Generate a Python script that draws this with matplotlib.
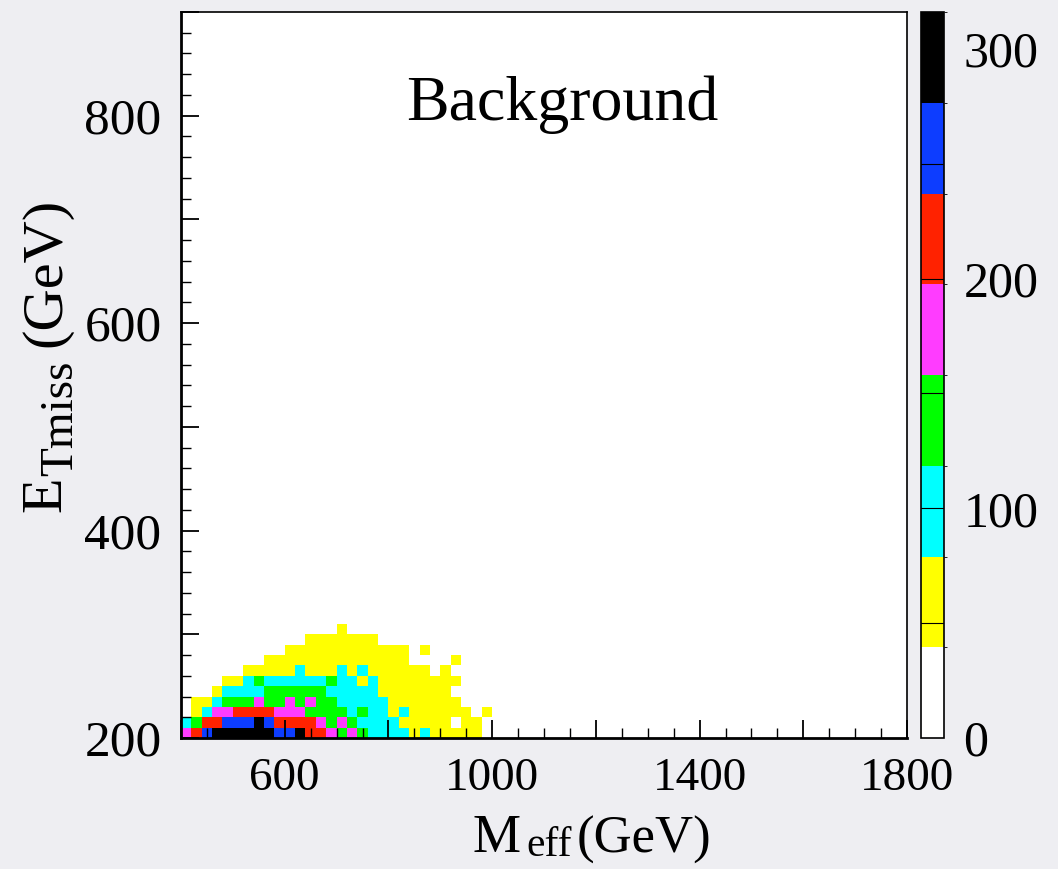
import numpy as np
import matplotlib

matplotlib.use("Agg")
import matplotlib.pyplot as plt
from matplotlib.colors import ListedColormap, BoundaryNorm
from matplotlib.ticker import MultipleLocator

plt.rcParams["font.family"] = ["Liberation Serif", "DejaVu Serif"]

# binning of the histogram (GeV)
x_lo, x_hi, x_bin = 400, 1800, 20
y_lo, y_hi, y_bin = 200, 900, 10

# bin contents, rows from E_Tmiss = 200 upward,
# columns from M_eff = 400 upward (everything else is empty)
counts = [
    [180, 220, 260, 300, 300, 300, 300, 300, 300, 260, 260, 300, 220, 220, 180,
     140, 180, 140, 100, 100, 100, 100, 60, 100, 60, 60, 60, 60, 60, 0],
    [100, 140, 220, 220, 260, 260, 260, 300, 260, 220, 220, 220, 220, 180, 140,
     180, 140, 100, 100, 100, 100, 60, 60, 60, 60, 60, 0, 60, 60, 0],
    [0, 60, 100, 180, 180, 220, 220, 220, 220, 180, 180, 180, 140, 140, 140,
     140, 100, 140, 100, 100, 60, 100, 60, 60, 60, 60, 60, 60, 0, 60],
    [0, 60, 60, 100, 140, 140, 140, 180, 140, 140, 180, 140, 180, 140, 140,
     100, 100, 100, 100, 100, 60, 60, 60, 60, 60, 60, 60, 0, 0, 0],
    [0, 0, 0, 60, 100, 100, 100, 100, 140, 140, 140, 140, 140, 140, 100,
     100, 100, 100, 100, 60, 60, 60, 60, 60, 60, 60, 0, 0, 0, 0],
    [0, 0, 0, 0, 60, 60, 100, 140, 100, 100, 100, 100, 100, 100, 140,
     100, 100, 60, 100, 60, 60, 60, 60, 60, 60, 60, 60, 0, 0, 0],
    [0, 0, 0, 0, 0, 0, 60, 60, 60, 60, 60, 100, 60, 60, 60,
     100, 60, 100, 60, 60, 60, 60, 60, 60, 0, 60, 0, 0, 0, 0],
    [0, 0, 0, 0, 0, 0, 0, 0, 60, 60, 60, 60, 60, 60, 60,
     60, 60, 60, 60, 60, 60, 60, 0, 0, 0, 0, 60, 0, 0, 0],
    [0, 0, 0, 0, 0, 0, 0, 0, 0, 0, 60, 60, 60, 60, 60,
     60, 60, 60, 60, 60, 60, 60, 0, 60, 0, 0, 0, 0, 0, 0],
    [0, 0, 0, 0, 0, 0, 0, 0, 0, 0, 0, 0, 60, 60, 60,
     60, 60, 60, 60, 0, 0, 0, 0, 0, 0, 0, 0, 0, 0, 0],
    [0, 0, 0, 0, 0, 0, 0, 0, 0, 0, 0, 0, 0, 0, 0,
     60, 0, 0, 0, 0, 0, 0, 0, 0, 0, 0, 0, 0, 0, 0],
]

# palette: 8 equal bands from 0 to z_max
z_max = 316
palette = ["#ffffff", "#ffff00", "#00ffff", "#00ff00",
           "#ff3cff", "#ff2200", "#0d3dff", "#000000"]
z_ticks = [0, 100, 200, 300]
z_lines = [50, 100, 150, 200, 250]

x_labels = {600: "600", 1000: "1000", 1400: "1400", 1800: "1800"}
y_labels = {200: "200", 400: "400", 600: "600", 800: "800"}

BG = "#eeeef2"

x_edges = np.arange(x_lo, x_hi + x_bin, x_bin)
y_edges = np.arange(y_lo, y_hi + y_bin, y_bin)
grid = np.zeros((len(y_edges) - 1, len(x_edges) - 1))
arr = np.array(counts, dtype=float)
grid[:arr.shape[0], :arr.shape[1]] = arr
grid = np.ma.masked_less_equal(grid, 0)

cmap = ListedColormap(palette)
bounds = np.linspace(0, z_max, len(palette) + 1)
norm = BoundaryNorm(bounds, cmap.N)

fig = plt.figure(figsize=(10.58, 8.69), dpi=100, facecolor=BG)
ax = fig.add_axes([181 / 1058, 1 - 738 / 869, 726 / 1058, 726 / 869])
ax.set_facecolor("white")
mesh = ax.pcolormesh(x_edges, y_edges, grid, cmap=cmap, norm=norm)
ax.set_xlim(x_lo, x_hi)
ax.set_ylim(y_lo, y_hi)

# ticks, ROOT style: inside, only on bottom / left
ax.xaxis.set_major_locator(MultipleLocator(200))
ax.xaxis.set_minor_locator(MultipleLocator(50))
ax.yaxis.set_major_locator(MultipleLocator(100))
ax.yaxis.set_minor_locator(MultipleLocator(20))
ax.set_xticklabels([x_labels.get(int(round(t)), "") for t in ax.get_xticks()])
ax.set_yticklabels([y_labels.get(int(round(t)), "") for t in ax.get_yticks()])
ax.tick_params(axis="both", which="both", direction="in",
               top=False, right=False, color="black")
ax.tick_params(axis="both", which="major", length=13, width=1.3)
ax.tick_params(axis="both", which="minor", length=7, width=1.0)
ax.tick_params(axis="x", which="major", labelsize=34, pad=14)
ax.tick_params(axis="y", which="major", labelsize=37, pad=14)
for s in ax.spines.values():
    s.set_linewidth(1.2)
ax.spines["left"].set_linewidth(2.0)
ax.spines["bottom"].set_linewidth(2.0)

ax.text(0.525, 0.872, "Background", transform=ax.transAxes,
        ha="center", va="center", fontsize=46)

# x title: M, lowered "eff", (GeV) -- ROOT-like large subscript
m = fig.text(473 / 1058, 1 - 852 / 869, "M", ha="left", va="baseline",
             fontsize=39)
eff = ax.annotate("eff", xy=(1, 0), xycoords=m, xytext=(4, -1),
                  textcoords="offset points", ha="left", va="bottom",
                  fontsize=30, annotation_clip=False)
ax.annotate("(GeV)", xy=(1, 0), xycoords=(eff, m), xytext=(3, 0),
            textcoords="offset points", ha="left", va="bottom",
            fontsize=38, annotation_clip=False)

# y title: E, subscript "Tmiss", (GeV), rotated
e = fig.text(46 / 1058, 1 - 512 / 869, "E", ha="center", va="bottom",
             rotation=90, fontsize=42)
tm = ax.annotate("Tmiss", xy=(1, 1), xycoords=e, xytext=(7, 0),
                 textcoords="offset points", ha="right", va="bottom",
                 rotation=90, fontsize=34, annotation_clip=False)
ax.annotate("(GeV)", xy=(1, 1), xycoords=(e, tm), xytext=(0, 10),
            textcoords="offset points", ha="right", va="bottom",
            rotation=90, fontsize=42, annotation_clip=False)

# palette axis
cax = fig.add_axes([921 / 1058, 1 - 738 / 869, 23 / 1058, 726 / 869])
cb = fig.colorbar(mesh, cax=cax, spacing="proportional")
cb.set_ticks(z_ticks)
cb.ax.tick_params(length=0, labelsize=36, pad=14)
cb.outline.set_linewidth(1.2)
for v in z_lines:
    cax.axhline(v, color="black", lw=0.8)

fig.savefig("out.png", dpi=100, facecolor=BG)
